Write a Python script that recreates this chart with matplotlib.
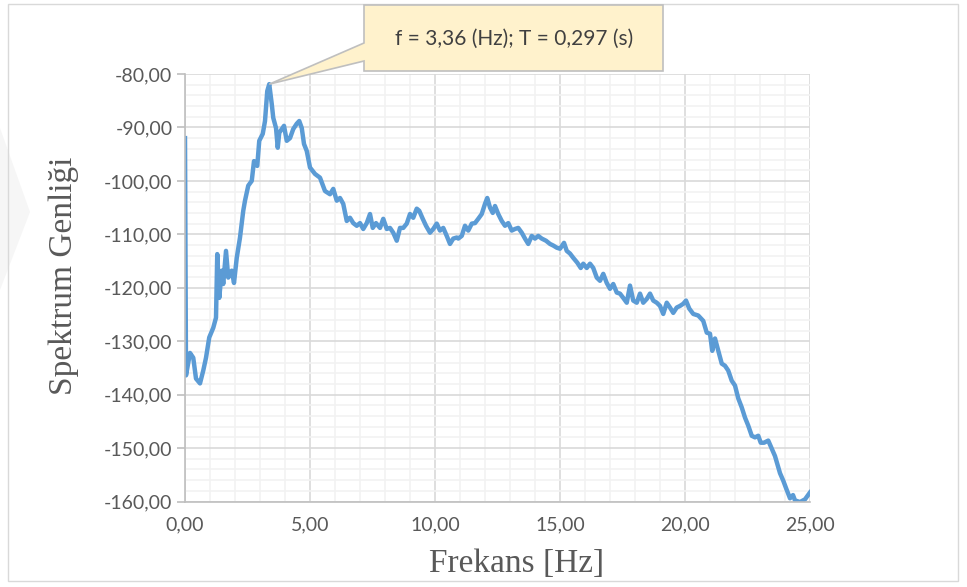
import numpy as np
import matplotlib.pyplot as plt
from matplotlib.ticker import MultipleLocator, FuncFormatter
from matplotlib.patches import Polygon, Rectangle

# Frekans (Hz) ve spektrum genliği
frekans = [
    0.00, 0.04, 0.20, 0.33, 0.44, 0.60, 0.73, 0.84, 0.97, 1.13, 1.24, 1.29,
    1.37, 1.47, 1.53, 1.64, 1.73, 1.87, 1.96, 2.07, 2.20, 2.33, 2.40, 2.53,
    2.67, 2.76, 2.89, 2.97, 3.11, 3.20, 3.29, 3.37, 3.47, 3.53, 3.64, 3.71,
    3.77, 3.87, 3.96, 4.07, 4.20, 4.33, 4.47, 4.57, 4.67, 4.76, 4.87, 5.00,
    5.20, 5.40, 5.60, 5.80, 5.93, 6.07, 6.20, 6.33, 6.47, 6.60, 6.73, 6.87,
    7.00, 7.13, 7.27, 7.40, 7.51, 7.64, 7.80, 7.93, 8.07, 8.20, 8.33, 8.47,
    8.60, 8.73, 8.87, 9.00, 9.13, 9.27, 9.37, 9.51, 9.64, 9.80, 9.93, 10.07,
    10.20, 10.33, 10.47, 10.60, 10.73, 10.87, 10.93, 11.07, 11.20, 11.33,
    11.47, 11.60, 11.73, 11.87, 12.00, 12.09, 12.20, 12.31, 12.40, 12.53,
    12.67, 12.80, 12.93, 13.07, 13.20, 13.33, 13.47, 13.60, 13.73, 13.87,
    14.00, 14.13, 14.27, 14.44, 14.60, 14.73, 14.87, 15.00, 15.16, 15.27,
    15.40, 15.53, 15.69, 15.83, 15.93, 16.07, 16.20, 16.33, 16.47, 16.60,
    16.73, 16.87, 17.00, 17.13, 17.27, 17.40, 17.53, 17.67, 17.80, 17.93,
    18.07, 18.20, 18.33, 18.47, 18.60, 18.73, 18.87, 19.00, 19.13, 19.27,
    19.40, 19.53, 19.67, 19.80, 19.93, 20.04, 20.17, 20.33, 20.53, 20.73,
    20.87, 21.00, 21.09, 21.20, 21.33, 21.47, 21.60, 21.73, 21.87, 22.00,
    22.13, 22.27, 22.40, 22.53, 22.67, 22.80, 22.93, 23.03, 23.16, 23.33,
    23.60, 23.80, 23.93, 24.05, 24.20, 24.32, 24.40, 24.60, 24.80, 25.00,
]
genlik = [
    -92.0, -136.4, -132.2, -133.1, -137.0, -137.9, -135.5, -133.1, -129.3, -127.5, -125.6, -113.7,
    -121.9, -116.8, -119.3, -113.1, -118.1, -116.8, -119.1, -114.4, -110.6, -105.6, -103.7, -100.9,
    -100.0, -96.3, -97.2, -92.5, -91.2, -88.8, -83.2, -81.9, -85.6, -88.2, -90.1, -93.8,
    -91.0, -90.3, -89.7, -92.5, -92.0, -90.3, -89.3, -88.8, -90.1, -93.1, -94.4, -97.5,
    -98.7, -99.4, -101.9, -102.5, -101.5, -103.7, -103.2, -104.3, -107.5, -106.9, -107.9, -108.4,
    -107.9, -109.0, -107.9, -106.2, -108.8, -107.9, -108.8, -107.1, -109.0, -108.8, -109.7, -111.2,
    -108.8, -108.8, -108.0, -106.2, -106.9, -105.2, -105.6, -107.1, -108.4, -109.7, -109.0, -108.0,
    -109.3, -108.8, -110.3, -111.8, -110.8, -110.6, -110.8, -110.3, -108.4, -109.3,
    -108.0, -107.9, -107.1, -106.2, -104.3, -103.2, -105.0, -106.0, -104.7, -106.2,
    -107.5, -108.4, -107.9, -109.3, -109.0, -108.8, -109.7, -110.8, -111.8, -110.3,
    -110.8, -110.3, -110.8, -111.2, -111.8, -112.1, -112.5, -112.7, -111.6, -113.1,
    -113.6, -114.4, -115.3, -116.3, -115.5, -116.3, -115.5, -116.3, -118.1, -118.7,
    -117.4, -119.1, -120.2, -119.3, -120.9, -121.1, -121.9, -122.8, -119.6, -122.4,
    -122.8, -121.1, -122.8, -122.1, -121.1, -122.4, -122.8, -123.4, -124.9, -122.8,
    -123.7, -124.7, -123.7, -123.4, -123.0, -122.4, -123.9, -124.9, -125.2, -126.2,
    -128.4, -128.6, -131.8, -129.5, -131.8, -134.2, -134.6, -135.5, -137.4, -138.3,
    -140.7, -142.4, -144.3, -145.8, -147.7, -148.0, -147.7, -149.0, -149.0, -148.6,
    -151.5, -154.7, -156.1, -157.6, -159.4, -158.8, -159.8, -160.1, -159.6, -158.3,
]

tepe_f = 3.37
tepe_g = -81.9
not_metni = 'f = 3,36 (Hz); T = 0,297 (s)'

W, H = 967, 587
fig = plt.figure(figsize=(W / 100, H / 100), dpi=100)
ax = fig.add_axes([185 / W, 1 - 501.5 / H, (810 - 185) / W, (501.5 - 74) / H])

def px(x, y):
    return (x / W, 1 - y / H)

# dış çerçeve ve soluk filigran
fig.patches.append(Rectangle(px(8, 581), (958 - 8) / W, (581 - 4) / H,
                             transform=fig.transFigure, fill=False,
                             edgecolor='#D9D9D9', lw=1))
fig.patches.append(Polygon([px(0, 128), px(30, 212), px(0, 290)], closed=True,
                           transform=fig.transFigure, facecolor='#F6F6F6',
                           edgecolor='none', zorder=0))

ax.plot(frekans, genlik, color='#5B9BD5', lw=3.2, solid_joinstyle='round')

ax.set_xlim(0, 25)
ax.set_ylim(-160, -80)
ax.xaxis.set_major_locator(MultipleLocator(5))
ax.xaxis.set_minor_locator(MultipleLocator(1))
ax.yaxis.set_major_locator(MultipleLocator(10))
ax.yaxis.set_minor_locator(MultipleLocator(2))
virgul = FuncFormatter(lambda v, p: f'{v:.2f}'.replace('.', ','))
ax.xaxis.set_major_formatter(virgul)
ax.yaxis.set_major_formatter(virgul)

ax.grid(which='major', color='#D9D9D9', lw=1.2)
ax.grid(which='minor', color='#F2F2F2', lw=1.2)
ax.set_axisbelow(True)
for s in ['top', 'right']:
    ax.spines[s].set_visible(False)
for s in ['left', 'bottom']:
    ax.spines[s].set_color('#BFBFBF')
    ax.spines[s].set_linewidth(1.2)

ax.tick_params(axis='y', which='major', length=6, color='#BFBFBF', width=1.2,
               labelsize=14, labelcolor='#595959', pad=3)
ax.tick_params(axis='x', which='major', length=0, labelsize=14,
               labelcolor='#595959', pad=11)
ax.tick_params(which='minor', length=0)
for lab in ax.get_xticklabels() + ax.get_yticklabels():
    lab.set_family('Lato')

# eksen başlıkları
fig.text(*px(517, 564), 'Frekans [Hz]', family='Liberation Serif', fontsize=24,
         color='#595959', ha='center', va='center')
fig.text(*px(64, 276), 'Spektrum Genliği', family='Liberation Serif', fontsize=24,
         color='#595959', ha='center', va='center', rotation=90)

# not kutusu (açıklama balonu)
fig.canvas.draw()
tx, ty = ax.transData.transform((tepe_f, tepe_g))
tip = (tx / W, ty / H)
balon = [px(364, 5), px(663, 5), px(663, 71), px(364, 71), px(364, 61), tip, px(364, 43)]
fig.patches.append(Polygon(balon, closed=True, transform=fig.transFigure,
                           facecolor='#FFF2CC', edgecolor='#BFBFBF', lw=1.2,
                           zorder=5))
fig.text(*px(514, 39), not_metni, family='Lato', fontsize=15,
         color='#404040', ha='center', va='center', zorder=6)

fig.savefig('out.png', dpi=100)
